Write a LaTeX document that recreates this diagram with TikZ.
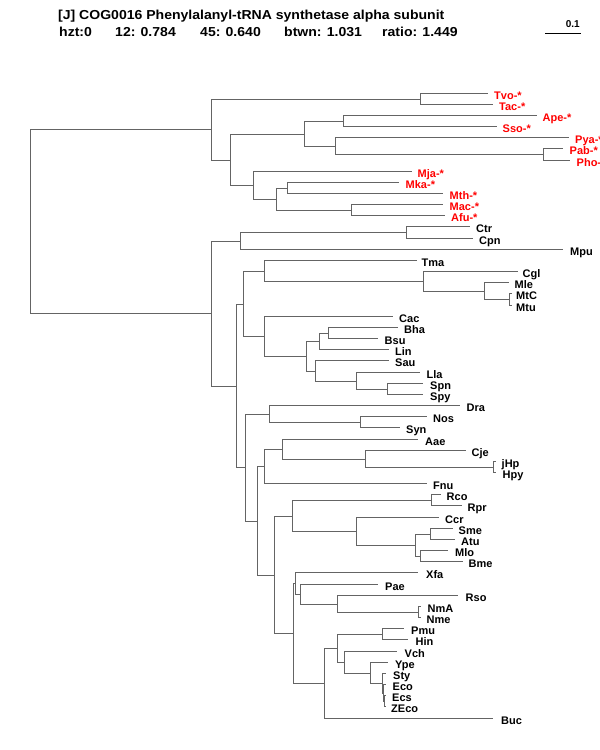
\documentclass[tikz,border=0pt]{standalone}
\usepackage{fontspec}
\setmainfont{Liberation Sans}
\definecolor{treegray}{RGB}{100,100,100}
\definecolor{treered}{RGB}{255,0,0}
\tikzset{
  br/.style={draw=treegray, line width=1.45pt},
  lf/.style={anchor=base west, inner sep=0pt, font=\fontsize{11}{11}\selectfont\bfseries},
  lfr/.style={lf, text=treered},
  ttl/.style={anchor=base west, inner sep=0pt, font=\fontsize{13}{13}\selectfont\bfseries},
}
\newcommand\leafnode[6]{\coordinate (e#1) at (#2,#3); \node[#6] (n#1) at (#4,#3+5.5) {#5};}
\newcommand\wide[1]{\scalebox{1.08}[1]{#1}}
\begin{document}
\begin{tikzpicture}[x=1pt,y=-1pt]
\useasboundingbox (0,0) rectangle (600,750);
\fill[white] (0,0) rectangle (600,750);
\clip (0,0) rectangle (600,750);
% header
\node[ttl] (title) at (58,19) {\wide{[J] COG0016 Phenylalanyl-tRNA synthetase alpha subunit}};
\node[ttl] (s1) at (59,36.5) {\wide{hzt:0}};
\node[ttl] (s2) at (115,36.5) {\wide{12: 0.784}};
\node[ttl] (s3) at (200,36.5) {\wide{45: 0.640}};
\node[ttl] (s4) at (284,36.5) {\wide{btwn: 1.031}};
\node[ttl] (s5) at (382,36.5) {\wide{ratio: 1.449}};
\coordinate (sbl) at (545,33.5);
\coordinate (sbr) at (581,33.5);
\draw[draw=black, line width=1pt] (sbl) -- (sbr);
\node[anchor=base east, inner sep=0pt, font=\fontsize{10}{10}\selectfont\bfseries] (sblab) at (580,27) {0.1};
% internal nodes
\coordinate (R) at (30.5,221.5);
\coordinate (A) at (211.5,129.5);
\coordinate (A1) at (420.5,99.5);
\coordinate (A2) at (230.5,160.5);
\coordinate (A3) at (304.5,134.5);
\coordinate (A5) at (343.5,121.5);
\coordinate (A6) at (335.5,146.5);
\coordinate (A7) at (543.5,154.5);
\coordinate (A4) at (253.5,185.5);
\coordinate (A8) at (276.5,199.5);
\coordinate (A9) at (287.5,188.5);
\coordinate (A10) at (351.5,210.5);
\coordinate (B) at (211.5,313.5);
\coordinate (B1) at (240.5,241.5);
\coordinate (B3) at (406.5,232.5);
\coordinate (B2) at (236.5,386.5);
\coordinate (B4) at (243.5,304.5);
\coordinate (B6) at (264.5,271.5);
\coordinate (B8) at (423.5,281.5);
\coordinate (B9) at (484.5,291.5);
\coordinate (B10) at (509.5,299.5);
\coordinate (B7) at (264.5,336.5);
\coordinate (B11) at (306.5,356.5);
\coordinate (B12) at (319.5,341.5);
\coordinate (B14) at (328.5,333.5);
\coordinate (B13) at (315.5,371.5);
\coordinate (B15) at (356.5,381.5);
\coordinate (B16) at (387.5,389.5);
\coordinate (B5) at (245.5,467.5);
\coordinate (B17) at (269.5,414.5);
\coordinate (B19) at (360.5,422.5);
\coordinate (B18) at (257.5,521.5);
\coordinate (B20) at (264.5,466.5);
\coordinate (B22) at (282.5,449.5);
\coordinate (B23) at (365.5,459.5);
\coordinate (B24) at (493.5,467.5);
\coordinate (B21) at (274.5,575.5);
\coordinate (B25) at (292.5,516.5);
\coordinate (B27) at (431.5,500.5);
\coordinate (B28) at (356.5,531.5);
\coordinate (B29) at (415.5,545.5);
\coordinate (B30) at (430.5,534.5);
\coordinate (B31) at (420.5,556.5);
\coordinate (B26) at (293.5,633.5);
\coordinate (B32) at (295.5,583.5);
\coordinate (B34) at (300.5,594.5);
\coordinate (B35) at (337.5,604.5);
\coordinate (B36) at (418.5,612.5);
\coordinate (B33) at (324.5,683.5);
\coordinate (B37) at (337.5,648.5);
\coordinate (B38) at (382.5,634.5);
\coordinate (B39) at (344.5,662.5);
\coordinate (B40) at (370.5,673.5);
\coordinate (B41) at (382.5,683.5);
\coordinate (B42) at (383.5,693.5);
\coordinate (B43) at (384.5,701.5);
% leaves
\leafnode{Tvo}{488}{93.5}{494}{Tvo-*}{lfr}
\leafnode{Tac}{493}{104.5}{499}{Tac-*}{lfr}
\leafnode{Ape}{537}{115.5}{542.5}{Ape-*}{lfr}
\leafnode{Sso}{497}{126.5}{502.5}{Sso-*}{lfr}
\leafnode{Pya}{569}{137.5}{575}{Pya-*}{lfr}
\leafnode{Pab}{563}{148.5}{569.5}{Pab-*}{lfr}
\leafnode{Pho}{570}{160.5}{576.5}{Pho-*}{lfr}
\leafnode{Mja}{412}{171.5}{417.5}{Mja-*}{lfr}
\leafnode{Mka}{399}{182.5}{405.5}{Mka-*}{lfr}
\leafnode{Mth}{443}{193.5}{449.5}{Mth-*}{lfr}
\leafnode{Mac}{443}{204.5}{449.5}{Mac-*}{lfr}
\leafnode{Afu}{445}{215.5}{451}{Afu-*}{lfr}
\leafnode{Ctr}{470}{226.5}{476}{Ctr}{lf}
\leafnode{Cpn}{473}{238.5}{479}{Cpn}{lf}
\leafnode{Mpu}{563}{249.5}{570}{Mpu}{lf}
\leafnode{Tma}{417}{260.5}{421.5}{Tma}{lf}
\leafnode{Cgl}{518}{271.5}{522.5}{Cgl}{lf}
\leafnode{Mle}{509}{282.5}{514.5}{Mle}{lf}
\leafnode{MtC}{511.5}{293.5}{516}{MtC}{lf}
\leafnode{Mtu}{511.5}{305.5}{516}{Mtu}{lf}
\leafnode{Cac}{393}{316.5}{399}{Cac}{lf}
\leafnode{Bha}{398}{327.5}{404}{Bha}{lf}
\leafnode{Bsu}{378}{338.5}{384.5}{Bsu}{lf}
\leafnode{Lin}{389}{349.5}{395}{Lin}{lf}
\leafnode{Sau}{389}{360.5}{395}{Sau}{lf}
\leafnode{Lla}{420}{372.5}{426.5}{Lla}{lf}
\leafnode{Spn}{423}{383.5}{430}{Spn}{lf}
\leafnode{Spy}{423}{394.5}{430}{Spy}{lf}
\leafnode{Dra}{460}{405.5}{466.5}{Dra}{lf}
\leafnode{Nos}{427}{416.5}{433}{Nos}{lf}
\leafnode{Syn}{400}{427.5}{406}{Syn}{lf}
\leafnode{Aae}{418}{439.5}{425}{Aae}{lf}
\leafnode{Cje}{466}{450.5}{471.5}{Cje}{lf}
\leafnode{jHp}{496}{461.5}{501.5}{jHp}{lf}
\leafnode{Hpy}{496}{472.5}{502.5}{Hpy}{lf}
\leafnode{Fnu}{427}{483.5}{433}{Fnu}{lf}
\leafnode{Rco}{441}{494.5}{446.5}{Rco}{lf}
\leafnode{Rpr}{462}{505.5}{467.5}{Rpr}{lf}
\leafnode{Ccr}{439}{517.5}{445}{Ccr}{lf}
\leafnode{Sme}{453}{528.5}{458.5}{Sme}{lf}
\leafnode{Atu}{455}{539.5}{461}{Atu}{lf}
\leafnode{Mlo}{448}{550.5}{455}{Mlo}{lf}
\leafnode{Bme}{463}{561.5}{468.5}{Bme}{lf}
\leafnode{Xfa}{418}{572.5}{426}{Xfa}{lf}
\leafnode{Pae}{378}{584.5}{385}{Pae}{lf}
\leafnode{Rso}{458}{595.5}{465.5}{Rso}{lf}
\leafnode{NmA}{421}{606.5}{427.5}{NmA}{lf}
\leafnode{Nme}{421}{617.5}{426.5}{Nme}{lf}
\leafnode{Pmu}{404}{628.5}{411}{Pmu}{lf}
\leafnode{Hin}{408}{639.5}{415.5}{Hin}{lf}
\leafnode{Vch}{397}{651.5}{404.5}{Vch}{lf}
\leafnode{Ype}{388}{662.5}{395}{Ype}{lf}
\leafnode{Sty}{386}{673.5}{393}{Sty}{lf}
\leafnode{Eco}{386}{684.5}{392.5}{Eco}{lf}
\leafnode{Ecs}{386}{695.5}{392}{Ecs}{lf}
\leafnode{ZEco}{386}{706.5}{391}{ZEco}{lf}
\leafnode{Buc}{493}{718.5}{501}{Buc}{lf}
% branches
\foreach \p/\c in {R/A, R/B,
  A/A1, A/A2, A1/eTvo, A1/eTac, A2/A3, A2/A4, A3/A5, A3/A6,
  A5/eApe, A5/eSso, A6/ePya, A6/A7, A7/ePab, A7/ePho,
  A4/eMja, A4/A8, A8/A9, A8/A10, A9/eMka, A9/eMth, A10/eMac, A10/eAfu,
  B/B1, B/B2, B1/B3, B1/eMpu, B3/eCtr, B3/eCpn,
  B2/B4, B2/B5, B4/B6, B4/B7, B6/eTma, B6/B8, B8/eCgl, B8/B9,
  B9/eMle, B9/B10, B10/eMtC, B10/eMtu,
  B7/eCac, B7/B11, B11/B12, B11/B13, B12/B14, B12/eLin, B14/eBha, B14/eBsu,
  B13/eSau, B13/B15, B15/eLla, B15/B16, B16/eSpn, B16/eSpy,
  B5/B17, B5/B18, B17/eDra, B17/B19, B19/eNos, B19/eSyn,
  B18/B20, B18/B21, B20/B22, B20/eFnu, B22/eAae, B22/B23, B23/eCje, B23/B24,
  B24/ejHp, B24/eHpy,
  B21/B25, B21/B26, B25/B27, B25/B28, B27/eRco, B27/eRpr,
  B28/eCcr, B28/B29, B29/B30, B29/B31, B30/eSme, B30/eAtu, B31/eMlo, B31/eBme,
  B26/B32, B26/B33, B32/eXfa, B32/B34, B34/ePae, B34/B35, B35/eRso, B35/B36,
  B36/eNmA, B36/eNme,
  B33/B37, B33/eBuc, B37/B38, B37/B39, B38/ePmu, B38/eHin,
  B39/eVch, B39/B40, B40/eYpe, B40/B41, B41/eSty, B41/B42,
  B42/eEco, B42/B43, B43/eEcs, B43/eZEco}
  \draw[br] (\p) |- (\c);
\end{tikzpicture}
\end{document}
